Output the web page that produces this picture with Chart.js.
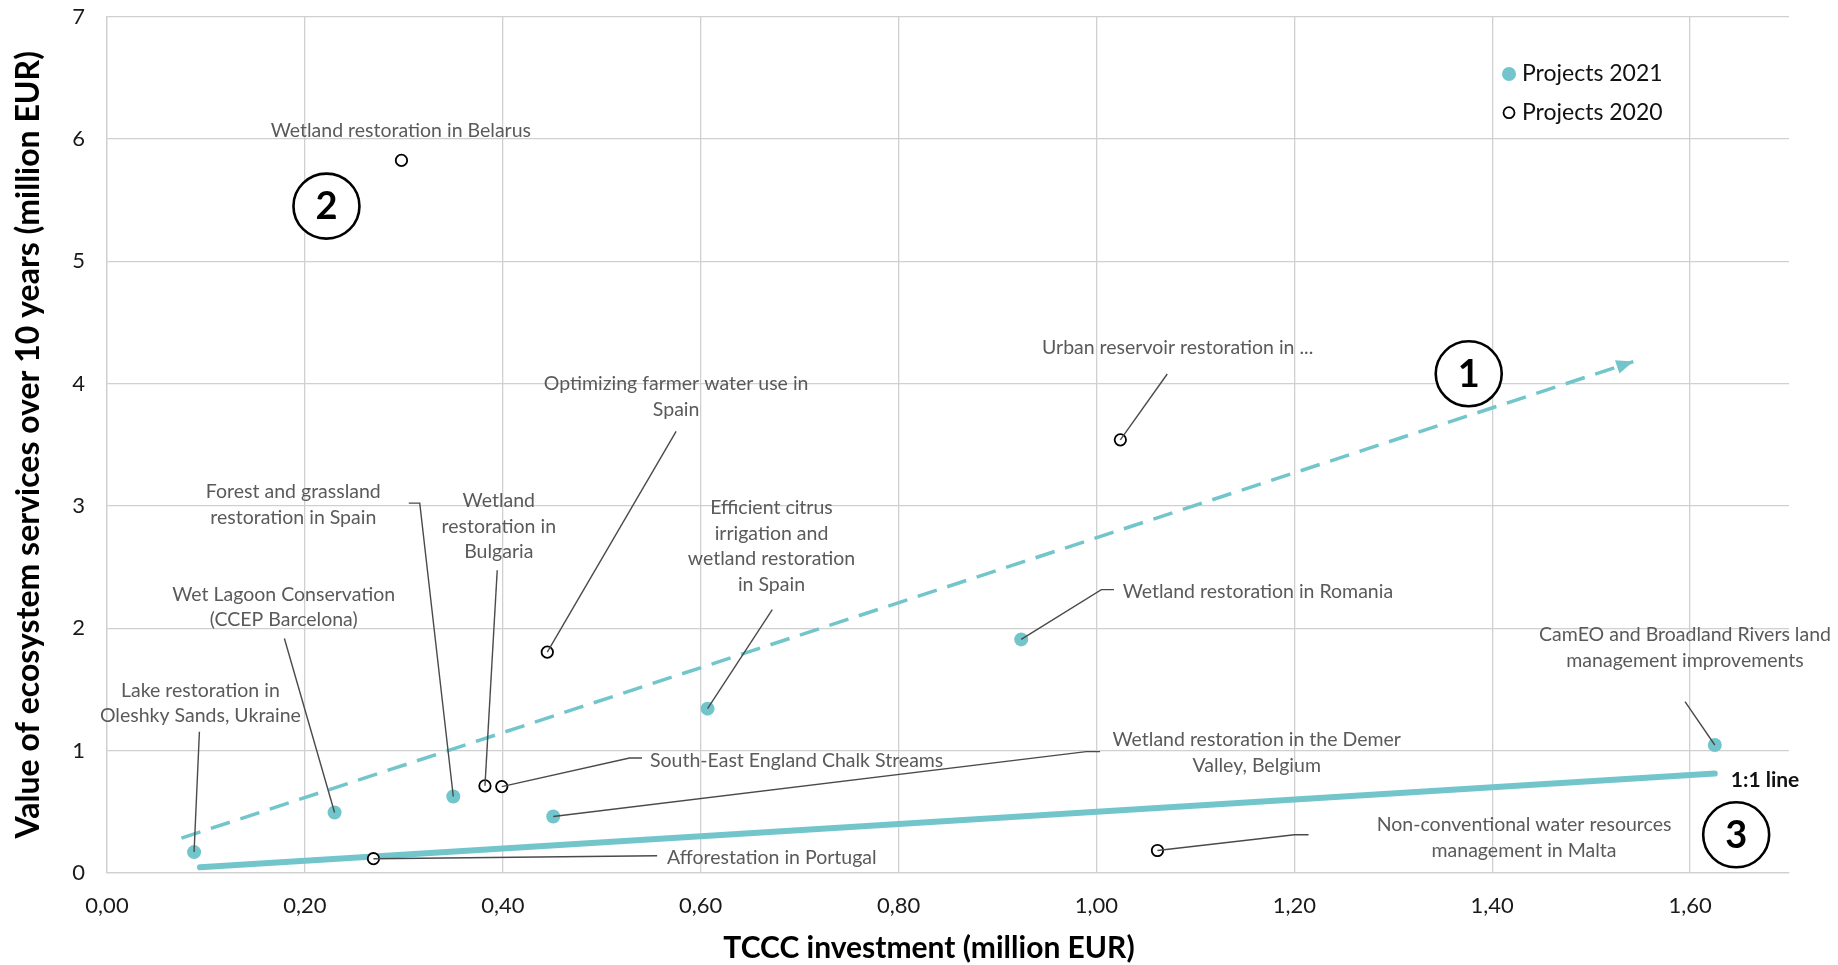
<!DOCTYPE html>
<html>
<head>
<meta charset="utf-8">
<script src="https://cdn.jsdelivr.net/npm/chart.js@4.4.1/dist/chart.umd.min.js"></script>
<style>
  html, body { margin: 0; padding: 0; background: #ffffff; }
  #wrap { width: 1838px; height: 965px; position: relative; }
</style>
</head>
<body>
<div id="wrap"><canvas id="c" width="1838" height="965"></canvas></div>
<script>
// ---------------- DATA ----------------
const names2021 = [
  "Lake restoration in Oleshky Sands, Ukraine",
  "Wet Lagoon Conservation (CCEP Barcelona)",
  "Forest and grassland restoration in Spain",
  "Wetland restoration in the Demer Valley, Belgium",
  "Efficient citrus irrigation and wetland restoration in Spain",
  "Wetland restoration in Romania",
  "CamEO and Broadland Rivers land management improvements"
];
const invest2021 = [0.088, 0.230, 0.350, 0.451, 0.607, 0.924, 1.625];
const value2021  = [0.171, 0.494, 0.625, 0.462, 1.343, 1.909, 1.046];

const names2020 = [
  "Wetland restoration in Belarus",
  "Urban reservoir restoration in ...",
  "Optimizing farmer water use in Spain",
  "Wetland restoration in Bulgaria",
  "South-East England Chalk Streams",
  "Afforestation in Portugal",
  "Non-conventional water resources management in Malta"
];
const invest2020 = [0.2976, 1.0242, 0.445, 0.382, 0.399, 0.2693, 1.0617];
const value2020  = [5.824, 3.540, 1.805, 0.712, 0.706, 0.117, 0.184];

const oneToOneX = [0.094, 1.625];
const oneToOneY = [0.047, 0.8125];
const trendX = [0.0752, 1.5427];
const trendY = [0.285, 4.18];

const xTickValues = [0, 0.2, 0.4, 0.6, 0.8, 1.0, 1.2, 1.4, 1.6];
const yTickValues = [0, 1, 2, 3, 4, 5, 6, 7];

const xTitleText = "TCCC investment (million EUR)";
const yTitleText = "Value of ecosystem services over 10 years (million EUR)";

// ---------------- ANNOTATIONS (label text and leader anchors in data units) ----------------
const labelSpecs = [
  { lines: ["Wetland restoration in Belarus"], at: [0.2970, 6.063], align: "center", leader: [], series: 2020, idx: 0 },
  { lines: ["Lake restoration in", "Oleshky Sands, Ukraine"], at: [0.0944, 1.490], align: "center", leader: [[0.0934, 1.155]], series: 2021, idx: 0 },
  { lines: ["Wet Lagoon Conservation", "(CCEP Barcelona)"], at: [0.1786, 2.278], align: "center", leader: [[0.1793, 1.917]], series: 2021, idx: 1 },
  { lines: ["Forest and grassland", "restoration in Spain"], at: [0.1883, 3.113], align: "center", leader: [[0.3050, 3.023], [0.3161, 3.023]], series: 2021, idx: 2 },
  { lines: ["Wetland", "restoration in", "Bulgaria"], at: [0.3960, 3.039], align: "center", leader: [[0.3944, 2.474]], series: 2020, idx: 3 },
  { lines: ["Optimizing farmer water use in", "Spain"], at: [0.5752, 3.997], align: "center", leader: [[0.5752, 3.610]], series: 2020, idx: 2 },
  { lines: ["South-East England Chalk Streams"], at: [0.5488, 0.918], align: "left", leader: [[0.5408, 0.940], [0.5281, 0.940]], series: 2020, idx: 4 },
  { lines: ["Efficient citrus", "irrigation and", "wetland restoration", "in Spain"], at: [0.6716, 2.985], align: "center", leader: [[0.6724, 2.153]], series: 2021, idx: 4 },
  { lines: ["Wetland restoration in Romania"], at: [1.0265, 2.297], align: "left", leader: [[1.0177, 2.316], [1.0050, 2.316]], series: 2021, idx: 5 },
  { lines: ["Wetland restoration in the Demer", "Valley, Belgium"], at: [1.1620, 1.087], align: "center", leader: [[1.0037, 0.992], [0.9897, 0.992]], series: 2021, idx: 3 },
  { lines: ["Afforestation in Portugal"], at: [0.5660, 0.127], align: "left", leader: [[0.5560, 0.141]], series: 2020, idx: 5 },
  { lines: ["Non-conventional water resources", "management in Malta"], at: [1.4322, 0.394], align: "center", leader: [[1.2144, 0.313], [1.2001, 0.313]], series: 2020, idx: 6 },
  { lines: ["CamEO and Broadland Rivers land", "management improvements"], at: [1.5949, 1.944], align: "center", leader: [[1.5949, 1.400]], series: 2021, idx: 6 },
  { lines: ["Urban reservoir restoration in ..."], at: [1.0821, 4.295], align: "center", leader: [[1.0716, 4.078]], series: 2020, idx: 1 }
];
const circledMarks = [
  { text: "1", at: [1.3763, 4.08] },
  { text: "2", at: [0.2218, 5.45] },
  { text: "3", at: [1.6466, 0.312] }
];
const lineLabelText = "1:1 line";

// ---------------- STYLE ----------------
const TEAL = "rgb(114,198,203)";
const GRID = "#d0d0d0";
const LABEL_COLOR = "#5a5a5a";
const LEADER_COLOR = "#4a4a4a";
const FONT = "Lato, 'Open Sans', sans-serif";

function toPts(xs, ys) { return xs.map((x, i) => ({ x: x, y: ys[i] })); }

const annotationPlugin = {
  id: "annotations",
  afterDatasetsDraw(chart) {
    const ctx = chart.ctx;
    const xs = chart.scales.x, ys = chart.scales.y;
    const px = v => xs.getPixelForValue(v);
    const py = v => ys.getPixelForValue(v);

    // arrow head on trend line
    const pts = chart.getDatasetMeta(3).data;
    if (pts.length >= 2) {
      const a = pts[pts.length - 2], b = pts[pts.length - 1];
      const ang = Math.atan2(b.y - a.y, b.x - a.x);
      const L = 17, W = 7;
      ctx.save();
      ctx.fillStyle = TEAL;
      ctx.beginPath();
      ctx.moveTo(b.x, b.y);
      ctx.lineTo(b.x - L * Math.cos(ang) + W * Math.sin(ang), b.y - L * Math.sin(ang) - W * Math.cos(ang));
      ctx.lineTo(b.x - L * Math.cos(ang) - W * Math.sin(ang), b.y - L * Math.sin(ang) + W * Math.cos(ang));
      ctx.closePath();
      ctx.fill();
      ctx.restore();
    }

    // leaders + labels
    ctx.save();
    labelSpecs.forEach(s => {
      const tx = s.series === 2021 ? invest2021[s.idx] : invest2020[s.idx];
      const ty = s.series === 2021 ? value2021[s.idx] : value2020[s.idx];
      if (s.leader.length) {
        ctx.strokeStyle = LEADER_COLOR;
        ctx.lineWidth = 1.4;
        ctx.beginPath();
        ctx.moveTo(px(s.leader[0][0]), py(s.leader[0][1]));
        for (let i = 1; i < s.leader.length; i++) ctx.lineTo(px(s.leader[i][0]), py(s.leader[i][1]));
        ctx.lineTo(px(tx), py(ty));
        ctx.stroke();
      }
      ctx.fillStyle = LABEL_COLOR;
      ctx.font = "19.5px " + FONT;
      ctx.textAlign = s.align;
      ctx.textBaseline = "middle";
      s.lines.forEach((t, i) => ctx.fillText(t, px(s.at[0]), py(s.at[1]) + i * 25.5));
    });
    ctx.restore();

    // circled numbers
    ctx.save();
    circledMarks.forEach(m => {
      const cx = px(m.at[0]), cy = py(m.at[1]);
      ctx.strokeStyle = "#000";
      ctx.lineWidth = 2.6;
      ctx.beginPath();
      ctx.ellipse(cx, cy, 33, 32.5, 0, 0, Math.PI * 2);
      ctx.fillStyle = "#fff";
      ctx.fill();
      ctx.stroke();
      ctx.fillStyle = "#000";
      ctx.font = "bold 38px " + FONT;
      ctx.textAlign = "center";
      ctx.textBaseline = "middle";
      ctx.fillText(m.text, cx, cy + 1);
    });
    ctx.restore();

    // 1:1 line label
    ctx.save();
    const lx = px(oneToOneX[1]), ly = py(oneToOneY[1]);
    ctx.fillStyle = "#111";
    ctx.font = "bold 21px " + FONT;
    ctx.textAlign = "left";
    ctx.textBaseline = "middle";
    ctx.fillText(lineLabelText, lx + 16, ly + 7);
    ctx.restore();

    // legend (inside plot, top right)
    ctx.save();
    const lgX = chart.chartArea.right - 280, lgY = chart.chartArea.top + 57.5;
    const items = [chart.data.datasets[0], chart.data.datasets[1]];
    items.forEach((d, i) => {
      const y = lgY + i * 38.7;
      ctx.beginPath();
      ctx.arc(lgX, y, i === 0 ? 7 : 5.5, 0, Math.PI * 2);
      if (i === 0) { ctx.fillStyle = TEAL; ctx.fill(); }
      else { ctx.fillStyle = "#fff"; ctx.fill(); ctx.strokeStyle = "#000"; ctx.lineWidth = 1.8; ctx.stroke(); }
      ctx.fillStyle = "#111";
      ctx.font = "23px " + FONT;
      ctx.textAlign = "left";
      ctx.textBaseline = "middle";
      ctx.fillText(d.label, lgX + 13, y);
    });
    ctx.restore();

    // x axis title (slightly left of plot centre, as in the original)
    ctx.save();
    ctx.fillStyle = "#000";
    ctx.font = "bold 30px " + FONT;
    ctx.textAlign = "center";
    ctx.textBaseline = "middle";
    ctx.fillText(xTitleText, (chart.chartArea.left + chart.chartArea.right) / 2 - 19, chart.height - 17);
    ctx.restore();
  }
};

function build() {
  const ctx = document.getElementById("c").getContext("2d");
  new Chart(ctx, {
    data: {
      datasets: [
        { type: "scatter", label: "Projects 2021", data: toPts(invest2021, value2021),
          backgroundColor: TEAL, borderWidth: 0, pointRadius: 7, pointHoverRadius: 7, order: 1 },
        { type: "scatter", label: "Projects 2020", data: toPts(invest2020, value2020),
          backgroundColor: "#fff", borderColor: "#000", borderWidth: 1.8, pointRadius: 5.7, pointHoverRadius: 5.7, order: 1 },
        { type: "line", label: "1:1 line", data: toPts(oneToOneX, oneToOneY),
          borderColor: TEAL, borderWidth: 6, borderCapStyle: "round", pointRadius: 0, fill: false, order: 3 },
        { type: "line", label: "trend", data: toPts(trendX, trendY),
          borderColor: TEAL, borderWidth: 3.5, borderDash: [20, 11], pointRadius: 0, fill: false, order: 3 }
      ]
    },
    options: {
      responsive: false,
      animation: false,
      devicePixelRatio: 1,
      layout: { padding: { left: 0, right: 49, top: 16.5, bottom: 0 } },
      plugins: { legend: { display: false }, tooltip: { enabled: false } },
      scales: {
        x: {
          type: "linear", min: 0, max: 1.7,
          afterBuildTicks: s => { s.ticks = xTickValues.map(v => ({ value: v })); },
          afterFit: s => { s.height = 92; s.paddingLeft = 0; s.paddingRight = 0; },
          grid: { color: GRID, lineWidth: 1.3, drawTicks: false },
          border: { color: GRID, width: 1.3 },
          ticks: { padding: 20, color: "#1a1a1a", font: { family: FONT, size: 22 },
                   callback: v => v.toFixed(2).replace(".", ",") },
          title: { display: false }
        },
        y: {
          type: "linear", min: 0, max: 7,
          afterBuildTicks: s => { s.ticks = yTickValues.map(v => ({ value: v })); },
          afterFit: s => { s.width = 107; s.paddingTop = 0; s.paddingBottom = 0; },
          grid: { color: GRID, lineWidth: 1.3, drawTicks: false },
          border: { color: GRID, width: 1.3 },
          ticks: { padding: 22, color: "#1a1a1a", font: { family: FONT, size: 22 } },
          title: { display: true, text: yTitleText, color: "#000",
                   font: { family: FONT, size: 32, weight: "bold" }, padding: { top: 9, bottom: 0 } }
        }
      }
    },
    plugins: [annotationPlugin]
  });
}

Promise.all([
  document.fonts.load("20px Lato"),
  document.fonts.load("bold 20px Lato")
]).then(build, build);
</script>
</body>
</html>
